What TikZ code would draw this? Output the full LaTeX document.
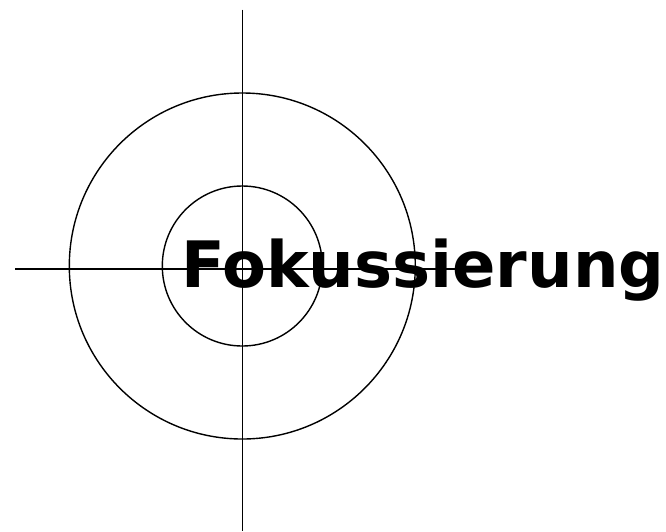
\documentclass[tikz,border=0pt]{standalone}
\usepackage{fontspec}
\setmainfont{DejaVu Sans}
\begin{document}
\begin{tikzpicture}[x=1pt,y=-1pt,
  ring/.style={draw=black,line width=1.4pt},
  axis/.style={draw=black,line width=1.4pt},
  title/.style={font=\fontsize{64}{72}\selectfont\bfseries,inner sep=0pt,anchor=base west}]
\useasboundingbox (0,0) rectangle (666,531);
\coordinate (c) at (242.3,266);
\coordinate (vtop) at (242.3,9.5);
\coordinate (vbot) at (242.3,531);
\coordinate (hleft) at (15,269);
\coordinate (hright) at (460,269);
\draw[ring] (c) circle (173);
\draw[ring] (c) circle (80);
\draw[axis] (vtop) -- (vbot);
\draw[axis] (hleft) -- (hright);
\node[title] (t) at (181,287) {Fokussierung};
\end{tikzpicture}
\end{document}
